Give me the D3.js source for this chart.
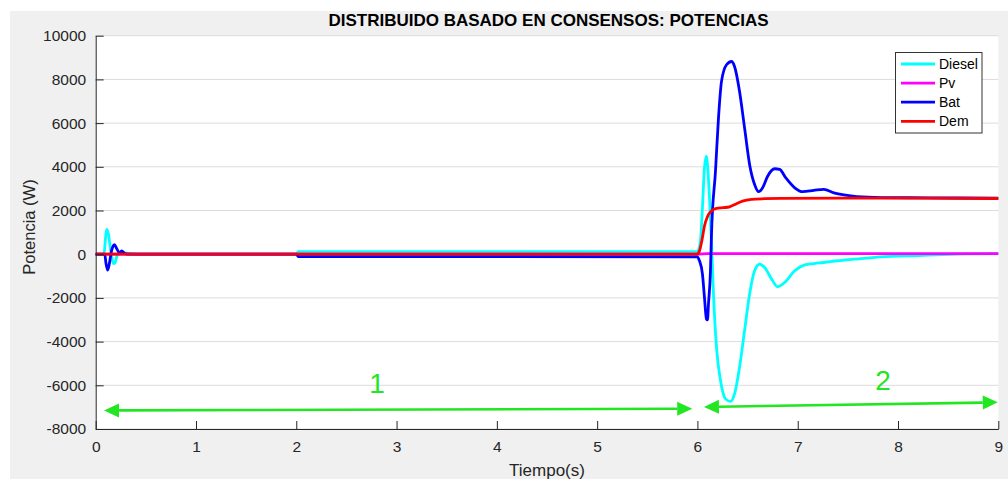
<!DOCTYPE html>
<html>
<head>
<meta charset="utf-8">
<script src="https://cdn.jsdelivr.net/npm/d3@7"></script>
<style>
  html, body { margin: 0; padding: 0; background: #ffffff; }
  svg { display: block; font-family: "Liberation Sans", Arial, Helvetica, sans-serif; }
</style>
</head>
<body>
<svg id="chart" width="1008" height="479"></svg>
<script>
// ---- data (time in s, power in W) ----
const xTicks = [0, 1, 2, 3, 4, 5, 6, 7, 8, 9];
const yTicks = [-8000, -6000, -4000, -2000, 0, 2000, 4000, 6000, 8000, 10000];
const seriesNames = ["Diesel", "Pv", "Bat", "Dem"];
const seriesColors = ["#00ffff", "#ff00ff", "#0000ff", "#ff0000"];

const diesel = [[0,0],[0.083,0],[0.096,640],[0.109,1130],[0.126,940],[0.149,180],[0.176,-430],[0.193,-400],[0.209,-120],[0.236,30],[0.276,60],[0.342,30],[0.45,0],[2.0,0],[2.02,120],[6.0,120],[6.03,610],[6.05,2130],[6.07,3950],[6.09,4490],[6.10,4110],[6.12,2590],[6.14,610],[6.16,-1830],[6.19,-4260],[6.23,-5780],[6.28,-6620],[6.33,-6740],[6.37,-6390],[6.42,-5170],[6.47,-3500],[6.52,-1830],[6.57,-760],[6.62,-460],[6.67,-610],[6.74,-1140],[6.80,-1490],[6.87,-1290],[6.97,-760],[7.07,-490],[7.16,-430],[7.26,-380],[7.40,-300],[7.56,-230],[7.83,-120],[8.2,-60],[8.6,0],[9.0,30]];
const pv = [[0,0],[6.0,0],[6.1,25],[9.0,25]];
const bat = [[0,0],[0.09,0],[0.103,-430],[0.12,-730],[0.136,-430],[0.159,180],[0.186,440],[0.209,260],[0.236,60],[0.259,150],[0.292,30],[0.34,0],[2.0,0],[2.02,-110],[6.0,-120],[6.02,-300],[6.05,-910],[6.07,-1980],[6.09,-2970],[6.10,-3010],[6.11,-2280],[6.13,-760],[6.14,910],[6.18,3800],[6.21,6240],[6.24,7910],[6.29,8670],[6.34,8820],[6.37,8590],[6.42,7450],[6.47,5780],[6.52,4110],[6.57,3190],[6.61,2860],[6.65,3040],[6.70,3570],[6.77,3910],[6.82,3880],[6.88,3500],[6.97,3040],[7.05,2860],[7.16,2920],[7.26,2970],[7.36,2810],[7.46,2710],[7.59,2630],[7.83,2590],[8.3,2580],[9.0,2560]];
const dem = [[0,0],[6.0,0],[6.02,150],[6.05,760],[6.07,1290],[6.10,1720],[6.14,1980],[6.19,2100],[6.26,2130],[6.32,2170],[6.39,2310],[6.45,2430],[6.54,2510],[6.67,2540],[6.83,2555],[7.83,2570],[9.0,2550]];

// annotation arrows (data coords) and their labels
const arrowStarts = [[0.083,-7150],[6.065,-6990]];
const arrowEnds = [[5.948,-7070],[8.995,-6780]];
const arrowLabels = ["1","2"];
const arrowLabelPos = [[2.805,-5900],[7.85,-5760]];

const titleText = "DISTRIBUIDO BASADO EN CONSENSOS: POTENCIAS";
const xLabel = "Tiempo(s)";
const yLabel = "Potencia (W)";

// ---- layout ----
const svg = d3.select("#chart");
const L = 95.7, R = 998.3, T = 35.7, B = 429;
const axisColor = "#262626";
const green = "#22e622";

svg.append("rect").attr("x", 0).attr("y", 0).attr("width", 1008).attr("height", 479).attr("fill", "#ffffff");
svg.append("rect").attr("x", 10).attr("y", 11).attr("width", 998).attr("height", 468).attr("fill", "#f0f0f0");
svg.append("rect").attr("x", L).attr("y", T).attr("width", R - L).attr("height", B - T).attr("fill", "#ffffff");

const x = d3.scaleLinear().domain([0, 9]).range([L, R]);
const y = d3.scaleLinear().domain([-8000, 10000]).range([B, T]);

// horizontal grid
svg.append("g").selectAll("line").data(yTicks).join("line")
  .attr("x1", L).attr("x2", R)
  .attr("y1", d => y(d)).attr("y2", d => y(d))
  .attr("stroke", "#dcdcdc").attr("stroke-width", 1);

// clip
svg.append("clipPath").attr("id", "clip").append("rect")
  .attr("x", L).attr("y", T).attr("width", R - L).attr("height", B - T);

const line = d3.line().x(d => x(d[0])).y(d => y(d[1])).curve(d3.curveMonotoneX);
const allSeries = [diesel, pv, bat, dem];
const gLines = svg.append("g").attr("clip-path", "url(#clip)");
allSeries.forEach((s, i) => {
  gLines.append("path").datum(s).attr("d", line)
    .attr("fill", "none").attr("stroke", seriesColors[i])
    .attr("stroke-width", 2.8).attr("stroke-linejoin", "round").attr("stroke-linecap", "round");
});

// axes
const xAxis = d3.axisBottom(x).tickValues(xTicks).tickFormat(d3.format("d")).tickSizeInner(-8).tickSizeOuter(0).tickPadding(12);
const yAxis = d3.axisLeft(y).tickValues(yTicks).tickFormat(d => String(d)).tickSizeInner(-8).tickSizeOuter(0).tickPadding(8);
const gx = svg.append("g").attr("transform", `translate(0,${B})`).call(xAxis);
const gy = svg.append("g").attr("transform", `translate(${L},0)`).call(yAxis);
[gx, gy].forEach(g => {
  g.select(".domain").attr("stroke", axisColor).attr("stroke-width", 1);
  g.selectAll(".tick line").attr("stroke", axisColor).attr("stroke-width", 1);
  g.selectAll(".tick text").attr("fill", axisColor).attr("font-size", "15.5px")
    .attr("font-family", "'Liberation Sans', Arial, sans-serif");
});
gy.selectAll(".tick text").attr("dx", "-0.1em");

// title & labels
svg.append("text").attr("x", 548.5).attr("y", 26).attr("text-anchor", "middle")
  .attr("font-size", "17px").attr("font-weight", "bold").attr("fill", "#000").text(titleText);
svg.append("text").attr("x", 547).attr("y", 476).attr("text-anchor", "middle")
  .attr("font-size", "17px").attr("fill", axisColor).text(xLabel);
svg.append("text").attr("transform", "translate(35,227) rotate(-90)").attr("text-anchor", "middle")
  .attr("font-size", "16.5px").attr("fill", axisColor).text(yLabel);

// arrows
const gA = svg.append("g");
arrowStarts.forEach((s, i) => {
  const e = arrowEnds[i];
  const x1 = x(s[0]), y1 = y(s[1]), x2 = x(e[0]), y2 = y(e[1]);
  const ang = Math.atan2(y2 - y1, x2 - x1);
  const hl = 15, hw = 7;
  gA.append("line").attr("x1", x1 + hl * Math.cos(ang)).attr("y1", y1 + hl * Math.sin(ang))
    .attr("x2", x2 - hl * Math.cos(ang)).attr("y2", y2 - hl * Math.sin(ang))
    .attr("stroke", green).attr("stroke-width", 2.6);
  const head = (tx, ty, a) => {
    const bx = tx - hl * Math.cos(a), by = ty - hl * Math.sin(a);
    const px = -Math.sin(a) * hw, py = Math.cos(a) * hw;
    return `M${tx},${ty}L${bx + px},${by + py}L${bx - px},${by - py}Z`;
  };
  gA.append("path").attr("d", head(x2, y2, ang)).attr("fill", green);
  gA.append("path").attr("d", head(x1, y1, ang + Math.PI)).attr("fill", green);
  gA.append("text").attr("x", x(arrowLabelPos[i][0])).attr("y", y(arrowLabelPos[i][1]))
    .attr("text-anchor", "middle").attr("dominant-baseline", "central")
    .attr("font-size", "28px").attr("fill", green).text(arrowLabels[i]);
});

// legend
const lg = svg.append("g");
lg.append("rect").attr("x", 895.5).attr("y", 52.5).attr("width", 86.5).attr("height", 80.5)
  .attr("fill", "#ffffff").attr("stroke", "#333333").attr("stroke-width", 1);
seriesNames.forEach((n, i) => {
  const yy = 64 + i * 19.1;
  lg.append("line").attr("x1", 901).attr("x2", 935).attr("y1", yy).attr("y2", yy)
    .attr("stroke", seriesColors[i]).attr("stroke-width", 2.8);
  lg.append("text").attr("x", 939).attr("y", yy).attr("dominant-baseline", "central")
    .attr("font-size", "14px").attr("fill", "#000").text(n);
});
</script>
</body>
</html>
